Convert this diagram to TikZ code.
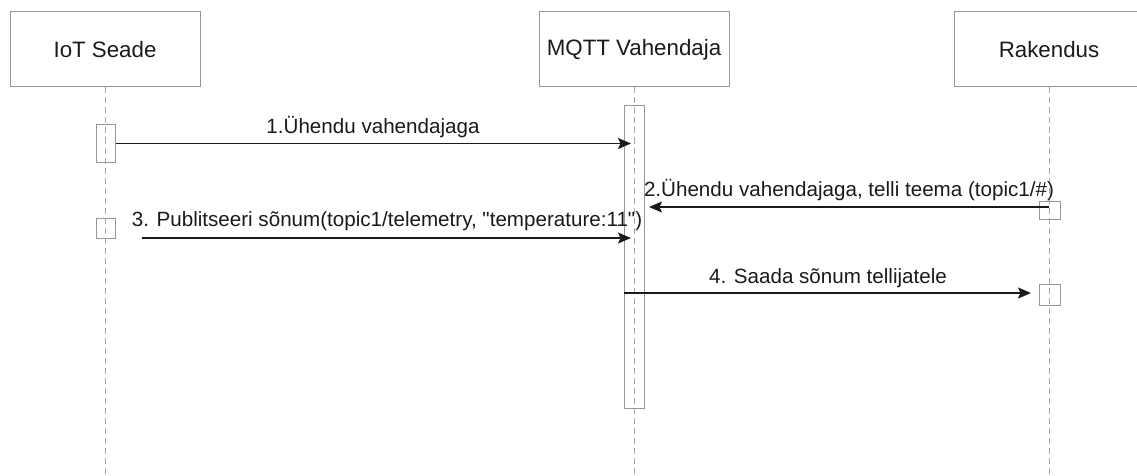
\documentclass[tikz,border=0pt]{standalone}
\usepackage{fontspec}
\setmainfont[Ligatures=TeXOff]{Liberation Sans}
\usetikzlibrary{arrows.meta}
\definecolor{boxgray}{HTML}{979797}
\definecolor{linegray}{HTML}{A8A8A8}
\definecolor{ink}{HTML}{1A1A1A}
\begin{document}
\begin{tikzpicture}[x=1pt,y=-1pt,
  actor/.style={draw=boxgray, line width=1pt, minimum width=190pt, minimum height=75pt,
    inner sep=0pt, font=\fontsize{22.3}{26}\selectfont, text=ink},
  lifeline/.style={draw=linegray, dash pattern=on 6pt off 4pt, line width=1pt},
  activation/.style={draw=boxgray, line width=1pt, inner sep=0pt},
  msg/.style={draw=ink, line width=1.6pt, -{Stealth[length=13pt,width=11pt,inset=2.5pt]}},
  msglabel/.style={font=\fontsize{20.6}{24}\selectfont, text=ink, anchor=base, inner sep=0pt}
]
\useasboundingbox (0,0) rectangle (1137,476);

% participants
\node[actor] (iot)  at (105,49.5)  {IoT Seade};
\node[actor] (mqtt) at (634,49.5)  {MQTT Vahendaja};
\node[actor] (app)  at (1049,49.5) {Rakendus};

% lifeline ends
\coordinate (iotEnd)  at (105,476);
\coordinate (mqttEnd) at (634,476);
\coordinate (appEnd)  at (1049,476);

\draw[lifeline] (iot.south)  -- (iotEnd);
\draw[lifeline] (mqtt.south) -- (mqttEnd);
\draw[lifeline] (app.south)  -- (appEnd);

% activation bars
\node[activation, minimum width=19pt, minimum height=37pt]  (iotA1) at (105.5,143.5) {};
\node[activation, minimum width=19pt, minimum height=20pt]  (iotA2) at (105.5,228)   {};
\node[activation, minimum width=20pt, minimum height=302pt] (mqttA) at (634,257)     {};
\node[activation, minimum width=21pt, minimum height=18pt]  (appA1) at (1049.5,210)  {};
\node[activation, minimum width=21pt, minimum height=21pt]  (appA2) at (1049.5,294.5) {};

% message end points
\coordinate (m1end)   at (631,143.5);
\coordinate (m2start) at (1049,207);
\coordinate (m2end)   at (649,207);
\coordinate (m3start) at (142,238);
\coordinate (m3end)   at (631,238);
\coordinate (m4start) at (624,293);
\coordinate (m4end)   at (1031,293);

% messages
\draw[msg] (iotA1.east) -- (m1end);
\node[msglabel] (l1) at (373,133) {1.Ühendu vahendajaga};

\draw[msg] (m2start) -- (m2end);
\node[msglabel] (l2) at (849,196) {2.Ühendu vahendajaga, telli teema (topic1/\#)};

\draw[msg] (m3start) -- (m3end);
\node[msglabel] (l3) at (387,226) {3. Publitseeri sõnum(topic1/telemetry, "temperature:11")};

\draw[msg] (m4start) -- (m4end);
\node[msglabel] (l4) at (828,283) {4. Saada sõnum tellijatele};
\end{tikzpicture}
\end{document}
